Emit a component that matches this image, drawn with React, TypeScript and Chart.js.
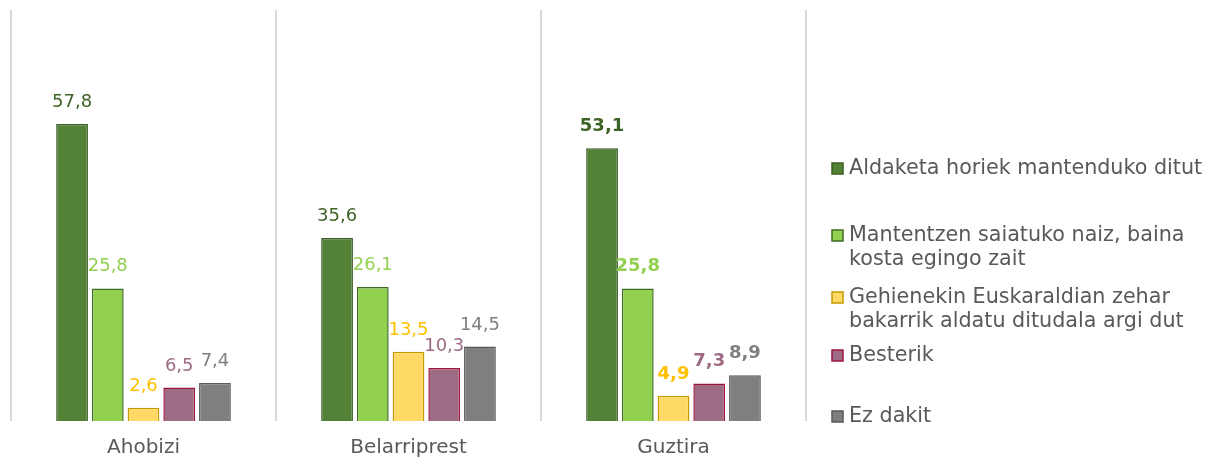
import React, { useEffect, useRef } from "react";
import { Chart, registerables } from "chart.js";

Chart.register(...registerables);

const categories = ["Ahobizi", "Belarriprest", "Guztira"];
const seriesNames = [
  "Aldaketa horiek mantenduko ditut",
  "Mantentzen saiatuko naiz, baina kosta egingo zait",
  "Gehienekin Euskaraldian zehar bakarrik aldatu ditudala argi dut",
  "Besterik",
  "Ez dakit",
];
const legendLines = [
  ["Aldaketa horiek mantenduko ditut"],
  ["Mantentzen saiatuko naiz, baina", "kosta egingo zait"],
  ["Gehienekin Euskaraldian zehar", "bakarrik aldatu ditudala argi dut"],
  ["Besterik"],
  ["Ez dakit"],
];
const aldaketa = [57.8, 35.6, 53.1];
const mantentzen = [25.8, 26.1, 25.8];
const gehienekin = [2.6, 13.5, 4.9];
const besterik = [6.5, 10.3, 7.3];
const ezDakit = [7.4, 14.5, 8.9];
const seriesValues = [aldaketa, mantentzen, gehienekin, besterik, ezDakit];
const boldCategory = "Guztira";

const fillColors = ["#538135", "#92d050", "#ffd966", "#9e6b84", "#7f7f7f"];
const borderColors = ["#3b5e25", "#3f6b25", "#c49a00", "#a0153e", "#595959"];
const labelColors = ["#3e6326", "#92d050", "#ffc000", "#9e6b84", "#7f7f7f"];
const legendYs = [168, 235, 297, 355, 416];
const FONT = "'DejaVu Sans', sans-serif";

const labelPlugin = {
  id: "valueLabels",
  afterDatasetsDraw(chart: any) {
    const ctx = chart.ctx;
    ctx.save();
    ctx.textAlign = "center";
    ctx.textBaseline = "alphabetic";
    chart.data.datasets.forEach((ds: any, di: number) => {
      const meta = chart.getDatasetMeta(di);
      meta.data.forEach((el: any, i: number) => {
        const bold = chart.data.labels[i] === boldCategory;
        ctx.font = `${bold ? "bold " : ""}18px ${FONT}`;
        ctx.fillStyle = labelColors[di];
        const txt = Number(ds.data[i]).toFixed(1).replace(".", ",");
        ctx.fillText(txt, el.x, el.y - 17);
      });
    });
    ctx.restore();
  },
};

const legendPlugin = {
  id: "sideLegend",
  afterDraw(chart: any) {
    const ctx = chart.ctx;
    const x0 = chart.chartArea.right + 26;
    ctx.save();
    ctx.font = `20.7px ${FONT}`;
    ctx.textBaseline = "middle";
    ctx.textAlign = "left";
    legendLines.forEach((lines, i) => {
      const y = legendYs[i];
      ctx.fillStyle = fillColors[i];
      ctx.fillRect(x0, y - 5, 11, 11);
      ctx.strokeStyle = borderColors[i];
      ctx.lineWidth = 1.5;
      ctx.strokeRect(x0, y - 5, 11, 11);
      ctx.fillStyle = "#595959";
      lines.forEach((ln, j) => {
        ctx.fillText(ln, x0 + 17, y + 1 + j * 24);
      });
    });
    ctx.restore();
  },
};

export default function App() {
  const ref = useRef<HTMLCanvasElement>(null);
  useEffect(() => {
    if (!ref.current) return;
    const chart = new Chart(ref.current, {
      type: "bar",
      data: {
        labels: categories,
        datasets: seriesNames.map((name, i) => ({
          label: name,
          data: seriesValues[i],
          backgroundColor: fillColors[i],
          borderColor: borderColors[i],
          borderWidth: 1.5,
          categoryPercentage: 0.674,
          barPercentage: 0.89,
        })),
      },
      options: {
        responsive: false,
        animation: false,
        layout: { padding: { left: 11, right: 415, top: 10, bottom: 0 } },
        plugins: { legend: { display: false }, tooltip: { enabled: false } },
        scales: {
          x: {
            border: { display: false },
            grid: { color: "#d9d9d9", lineWidth: 2, drawTicks: false, offset: true },
            ticks: { color: "#595959", font: { family: FONT, size: 20 }, padding: 15 },
            afterFit: (s: any) => { s.height = 41; },
          },
          y: { display: false, min: 0, max: 80 },
        },
      },
      plugins: [labelPlugin, legendPlugin],
    });
    return () => chart.destroy();
  }, []);
  return (
    <div style={{ position: "absolute", left: 0, top: 0, width: 1221, height: 462, background: "#fff" }}>
      <canvas ref={ref} width={1221} height={462} />
    </div>
  );
}
